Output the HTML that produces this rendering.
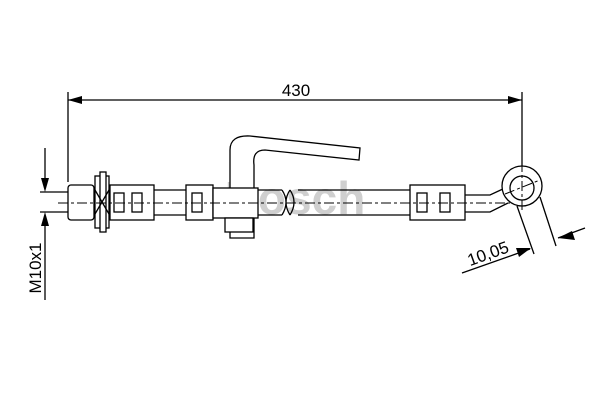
<!DOCTYPE html><html><head><style>body{margin:0;background:#fff}svg{display:block}</style></head><body>
<svg width="600" height="400" viewBox="0 0 600 400" xmlns="http://www.w3.org/2000/svg" font-family="Liberation Sans, sans-serif">
<text x="295" y="214" font-size="46" font-weight="bold" fill="#cfcfcf" text-anchor="middle">Bosch</text>
<g stroke="#000" stroke-width="1.3" fill="none">
<line x1="68" y1="92" x2="68" y2="182"/><line x1="522" y1="92" x2="522" y2="170"/>
<line x1="68" y1="100" x2="522" y2="100"/>
<line x1="40" y1="192" x2="68" y2="192"/><line x1="40" y1="212" x2="68" y2="212"/>
<line x1="45" y1="148" x2="45" y2="180"/><line x1="45" y1="225" x2="45" y2="300"/>
<rect x="68" y="185" width="26" height="35" rx="3" fill="#fff"/>
<rect x="95" y="176" width="14" height="52" fill="#fff"/>
<rect x="100" y="172" width="6" height="60" fill="#fff"/>
<line x1="95" y1="190" x2="109" y2="214"/><line x1="109" y1="190" x2="95" y2="214"/>
<rect x="110" y="185" width="44" height="35" fill="#fff"/>
<rect x="114" y="193" width="10" height="19"/><rect x="132" y="193" width="10" height="19"/>
<line x1="154" y1="190" x2="186" y2="190"/><line x1="154" y1="215" x2="186" y2="215"/>
<rect x="186" y="185" width="27" height="35" fill="#fff"/>
<rect x="192" y="193" width="10" height="19"/>
<path d="M230 238 L230 150 Q230 135 250 136 L360 148 L359 160 L265 150 Q252 150 254 165 L254 238 Z" fill="#fff"/>
<rect x="213" y="188" width="45" height="30" fill="#fff"/>
<rect x="225" y="218" width="28" height="14" fill="#fff"/>
<line x1="258" y1="190" x2="282" y2="190"/><line x1="258" y1="215" x2="282" y2="215"/>
<path d="M282 190 q8 12 0 25 M290 190 q-8 12 0 25 M290 190 q8 12 0 25"/>
<line x1="298" y1="190" x2="410" y2="190"/><line x1="298" y1="215" x2="410" y2="215"/>
<rect x="410" y="185" width="55" height="35" fill="#fff"/>
<rect x="417" y="193" width="10" height="19"/><rect x="440" y="193" width="10" height="19"/>
<path d="M465 195 L490 195 L505 188 M465 212 L490 212 L508 203"/>
<circle cx="522" cy="186" r="20" fill="#fff"/><circle cx="522" cy="188" r="12"/>
<line x1="517" y1="206" x2="534" y2="254"/><line x1="540" y1="197" x2="556" y2="246"/>
<line x1="462" y1="273" x2="530" y2="249"/><line x1="558" y1="238" x2="585" y2="228"/>
</g>
<g stroke="#000" stroke-width="1" stroke-dasharray="10,3,3,3" fill="none">
<line x1="58" y1="203" x2="510" y2="203"/>
<line x1="522" y1="162" x2="522" y2="210"/><line x1="505" y1="194" x2="540" y2="180"/>
</g>
<g fill="#000">
<polygon points="68,100 82,96 82,104"/><polygon points="522,100 508,96 508,104"/>
<polygon points="45,192 41,178 49,178"/><polygon points="45,212 41,226 49,226"/>
<polygon points="531,248 516,248 519,257"/><polygon points="558,238 572,231 575,240"/>
</g>
<text x="296" y="96" font-size="17" text-anchor="middle">430</text>
<text transform="translate(490,259) rotate(-20)" font-size="17" text-anchor="middle">10,05</text>
<text transform="translate(41,268) rotate(-90)" font-size="17" text-anchor="middle">M10x1</text>
</svg>
</body></html>
